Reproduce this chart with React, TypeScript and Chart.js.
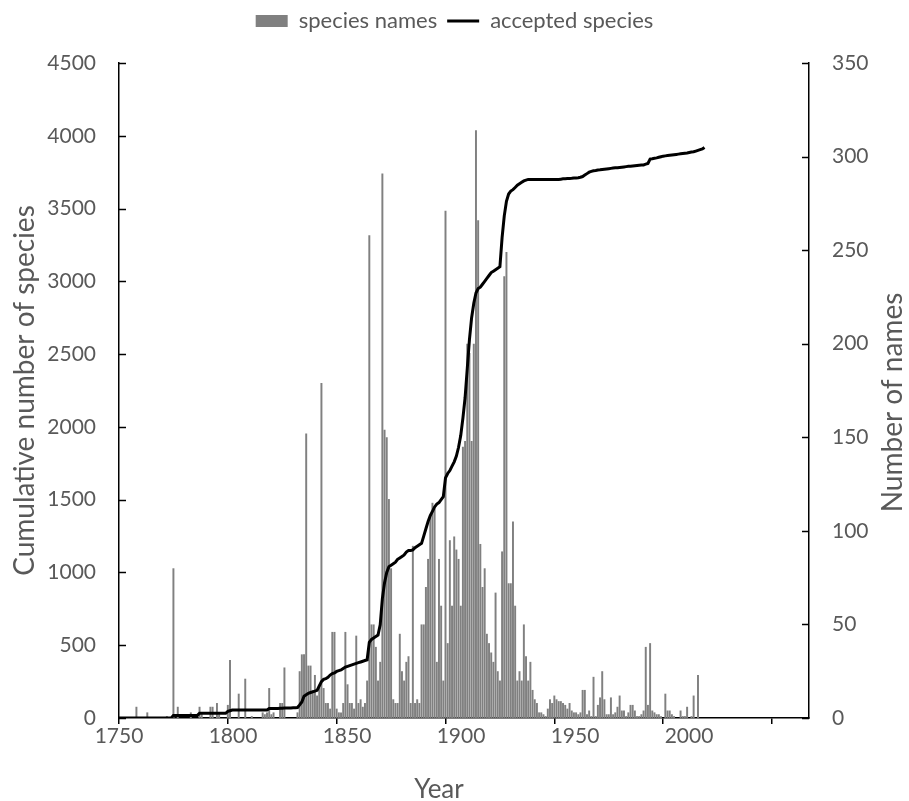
import React, { useEffect, useRef } from "react";
import { Chart, registerables } from "chart.js";

Chart.register(...registerables);

const firstYear = 1750;

// species names per year (right axis), 1750..2018
const speciesNames: number[] = [
  0, 0, 0, 0, 0, 0, 0, 0, 6, 0,
  0, 0, 0, 3, 0, 0, 0, 0, 0, 0,
  0, 0, 1, 0, 0, 80, 0, 6, 0, 0,
  0, 0, 0, 3, 0, 0, 0, 6, 2, 0,
  0, 0, 6, 6, 0, 8, 2, 0, 0, 0,
  7, 31, 0, 0, 0, 13, 0, 0, 21, 0,
  0, 1, 0, 0, 0, 0, 3, 2, 3, 16,
  2, 3, 0, 0, 8, 8, 27, 0, 0, 0,
  0, 0, 3, 25, 34, 34, 152, 28, 28, 15,
  23, 12, 16, 179, 16, 8, 8, 5, 46, 46,
  5, 3, 3, 8, 46, 18, 8, 8, 5, 44,
  8, 10, 6, 8, 20, 258, 50, 50, 38, 20,
  30, 291, 154, 150, 117, 80, 10, 8, 8, 45,
  25, 20, 30, 33, 8, 92, 8, 10, 8, 50,
  50, 70, 85, 107, 115, 112, 30, 85, 60, 20,
  271, 40, 95, 60, 97, 90, 85, 60, 145, 148,
  200, 195, 148, 200, 314, 266, 93, 70, 80, 45,
  40, 35, 30, 67, 25, 20, 89, 236, 249, 72,
  72, 105, 60, 20, 25, 20, 50, 33, 20, 30,
  15, 10, 8, 3, 3, 2, 1, 5, 10, 8,
  12, 10, 9, 9, 8, 7, 5, 8, 4, 3,
  3, 2, 3, 15, 15, 2, 4, 1, 22, 1,
  7, 11, 25, 10, 2, 2, 11, 2, 3, 6,
  12, 4, 4, 1, 3, 7, 7, 4, 1, 1,
  2, 4, 38, 7, 40, 4, 3, 2, 2, 1,
  0, 13, 4, 4, 2, 1, 0, 0, 4, 1,
  1, 6, 0, 1, 12, 0, 23, 0, 0,
];

// cumulative accepted species (left axis), 1750..2019
const acceptedSpecies: number[] = [
  0, 0, 0, 0, 0, 0, 0, 0, 0, 0,
  0, 0, 0, 0, 0, 0, 0, 0, 0, 0,
  0, 0, 0, 0, 0, 18, 18, 18, 18, 18,
  18, 18, 18, 18, 18, 18, 18, 32, 32, 32,
  32, 32, 32, 32, 32, 32, 32, 32, 32, 32,
  45, 50, 55, 55, 55, 55, 55, 55, 55, 55,
  55, 55, 55, 55, 55, 55, 55, 55, 55, 65,
  65, 65, 65, 65, 67, 67, 68, 68, 68, 68,
  70, 70, 72, 90, 110, 150, 160, 170, 175, 180,
  185, 190, 220, 250, 265, 270, 280, 295, 305, 310,
  320, 325, 330, 340, 350, 355, 360, 365, 370, 375,
  380, 385, 390, 395, 400, 520, 540, 550, 560, 570,
  640, 820, 930, 1000, 1040, 1050, 1060, 1070, 1090, 1100,
  1110, 1120, 1140, 1150, 1150, 1155, 1170, 1180, 1190, 1200,
  1250, 1300, 1350, 1390, 1420, 1450, 1470, 1480, 1500, 1520,
  1650, 1680, 1700, 1730, 1760, 1800, 1860, 1940, 2060, 2200,
  2400, 2600, 2750, 2850, 2920, 2950, 2960, 2980, 3000, 3020,
  3040, 3060, 3070, 3080, 3090, 3100, 3300, 3450, 3550, 3600,
  3620, 3630, 3645, 3660, 3670, 3680, 3690, 3695, 3700, 3700,
  3700, 3700, 3700, 3700, 3700, 3700, 3700, 3700, 3700, 3700,
  3700, 3700, 3700, 3702, 3704, 3705, 3706, 3707, 3708, 3710,
  3710, 3712, 3715, 3720, 3730, 3740, 3750, 3755, 3760, 3762,
  3765, 3766, 3768, 3770, 3772, 3774, 3776, 3778, 3780, 3780,
  3782, 3784, 3786, 3788, 3790, 3790, 3792, 3794, 3796, 3798,
  3800, 3800, 3805, 3810, 3840, 3842, 3845, 3848, 3852, 3856,
  3860, 3862, 3864, 3866, 3868, 3870, 3872, 3874, 3876, 3878,
  3880, 3882, 3885, 3888, 3890, 3895, 3900, 3905, 3910, 3920,
];

const xTickLabels = ["1750", "1800", "1850", "1900", "1950", "2000"];
const xTickMarks = [1750, 1800, 1850, 1900, 1950, 2000, 2050];
const leftTicks = [0, 500, 1000, 1500, 2000, 2500, 3000, 3500, 4000, 4500];
const rightTicks = [0, 50, 100, 150, 200, 250, 300, 350];

const TEXT = "#595959";
const FONT = "Lato";
const RIGHT_TITLE = "Number of names";
const X_TITLE = "Year";

const decorations = {
  id: "decorations",
  afterDraw(chart: any) {
    const ctx = chart.ctx;
    const y = chart.scales.y;
    const y1 = chart.scales.y1;
    const ca = chart.chartArea;
    ctx.save();
    ctx.strokeStyle = "#000";
    ctx.lineWidth = 1.5;
    y.ticks.forEach((t: any) => {
      const py = Math.round(y.getPixelForValue(t.value)) + 0.5;
      ctx.beginPath();
      ctx.moveTo(y.right, py);
      ctx.lineTo(y.right + 7, py);
      ctx.stroke();
    });
    y1.ticks.forEach((t: any) => {
      const py = Math.round(y1.getPixelForValue(t.value)) + 0.5;
      ctx.beginPath();
      ctx.moveTo(y1.left, py);
      ctx.lineTo(y1.left - 7, py);
      ctx.stroke();
    });
    ctx.fillStyle = TEXT;
    ctx.textAlign = "center";
    ctx.textBaseline = "middle";
    // x axis title
    ctx.font = `26px ${FONT}`;
    ctx.fillText(X_TITLE, (ca.left + ca.right) / 2 - 25, chart.height - 11);
    // right axis title, rotated like the left one (reads bottom to top)
    ctx.font = `28px ${FONT}`;
    ctx.translate(y1.right - 16, (ca.top + ca.bottom) / 2 + 12);
    ctx.rotate(-Math.PI / 2);
    ctx.fillText(RIGHT_TITLE, 0, 0);
    ctx.restore();
  },
};

const legendHeight = {
  id: "legendHeight",
  beforeInit(chart: any) {
    const legend = chart.legend;
    if (legend) {
      const orig = legend.fit.bind(legend);
      legend.fit = () => {
        orig();
        legend.height = 63;
      };
    }
  },
};

export default function App() {
  const ref = useRef<HTMLCanvasElement | null>(null);
  useEffect(() => {
    if (!ref.current) return;
    const barData = speciesNames.map((v, i) => ({ x: firstYear + i, y: v }));
    const lineData = acceptedSpecies.map((v, i) => ({ x: firstYear + i, y: v }));
    const chart = new Chart(ref.current, {
      type: "bar",
      data: {
        datasets: [
          {
            type: "bar",
            label: "species names",
            data: barData as any,
            backgroundColor: "#808080",
            borderColor: "#808080",
            borderWidth: 0,
            barPercentage: 0.9,
            categoryPercentage: 1,
            xAxisID: "x",
            yAxisID: "y1",
            pointStyle: "rect",
            order: 0,
          } as any,
          {
            type: "line",
            label: "accepted species",
            data: lineData as any,
            borderColor: "#000",
            backgroundColor: "#000",
            borderWidth: 3,
            pointRadius: 0,
            tension: 0,
            fill: false,
            xAxisID: "x",
            yAxisID: "y",
            pointStyle: "line",
            order: -1,
          } as any,
        ],
      },
      options: {
        animation: false,
        responsive: false,
        maintainAspectRatio: false,
        layout: { padding: 0 },
        plugins: {
          tooltip: { enabled: false },
          legend: {
            position: "top",
            labels: {
              usePointStyle: true,
              pointStyleWidth: 32,
              boxHeight: 12,
              color: TEXT,
              font: { family: FONT, size: 22 },
              padding: 10,
              sort: (a: any, b: any) => a.datasetIndex - b.datasetIndex,
            },
          },
        },
        scales: {
          x: {
            type: "linear",
            position: "bottom",
            offset: false,
            min: 1750,
            max: 2067,
            afterBuildTicks: (s: any) => {
              s.ticks = xTickMarks.map((v) => ({ value: v }));
            },
            ticks: { display: false },
            grid: {
              offset: false,
              drawOnChartArea: false,
              drawTicks: true,
              tickLength: 6,
              color: "#000",
              lineWidth: 1.5,
            },
            border: { display: true, color: "#000", width: 1.5 },
            afterFit: (s: any) => {
              s.height = 6;
            },
          },
          xl: {
            type: "linear",
            position: "bottom",
            offset: false,
            min: 1750,
            max: 1750 + (690 / 114) * 50,
            afterBuildTicks: (s: any) => {
              s.ticks = xTickLabels.map((v) => ({ value: Number(v) }));
            },
            ticks: {
              color: TEXT,
              font: { family: FONT, size: 21 },
              padding: 0,
              maxRotation: 0,
              autoSkip: false,
              callback: (v: any) => String(v),
            },
            grid: { display: false, drawTicks: false, offset: false },
            border: { display: false },
            title: { display: false, text: X_TITLE },
            afterFit: (s: any) => {
              s.height = 77;
            },
          },
          y: {
            type: "linear",
            position: "left",
            min: 0,
            max: 4500,
            afterBuildTicks: (s: any) => {
              s.ticks = leftTicks.map((v) => ({ value: v }));
            },
            ticks: {
              color: TEXT,
              font: { family: FONT, size: 21 },
              padding: 23,
              callback: (v: any) => String(v),
            },
            grid: { display: false, drawTicks: false },
            border: { display: true, color: "#000", width: 1.5 },
            title: {
              display: true,
              text: "Cumulative number of species",
              color: TEXT,
              font: { family: FONT, size: 28 },
              padding: { top: 8, bottom: 0 },
            },
            afterFit: (s: any) => {
              s.width = 119;
            },
          },
          y1: {
            type: "linear",
            position: "right",
            min: 0,
            max: 350,
            afterBuildTicks: (s: any) => {
              s.ticks = rightTicks.map((v) => ({ value: v }));
            },
            ticks: {
              color: TEXT,
              font: { family: FONT, size: 21 },
              padding: 23,
              callback: (v: any) => String(v),
            },
            grid: { display: false, drawTicks: false },
            border: { display: true, color: "#000", width: 1.5 },
            title: { display: false, text: RIGHT_TITLE },
            afterFit: (s: any) => {
              s.width = 100;
            },
          },
        },
      },
      plugins: [decorations, legendHeight],
    });
    return () => chart.destroy();
  }, []);
  return (
    <div style={{ position: "fixed", left: 0, top: 0, width: 909, height: 801, background: "#fff" }}>
      <canvas ref={ref} width={909} height={801} style={{ width: 909, height: 801 }} />
    </div>
  );
}
